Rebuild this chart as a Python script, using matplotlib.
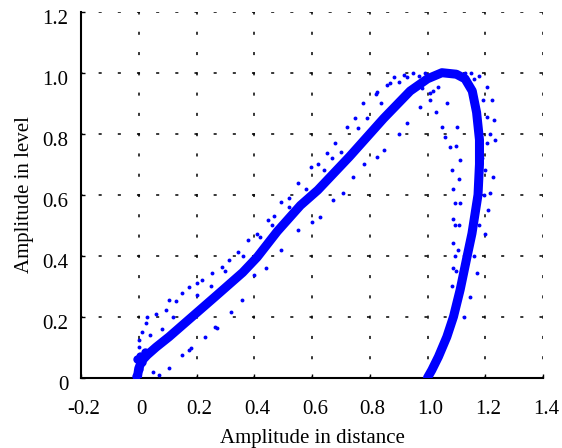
import matplotlib
matplotlib.use("Agg")
import matplotlib.pyplot as plt
import matplotlib.transforms as mtransforms

plt.rcParams['font.family'] = ['Liberation Serif', 'DejaVu Serif']
plt.rcParams['axes.unicode_minus'] = False
plt.rcParams['lines.scale_dashes'] = False

# main thick trajectory
band_x = [-0.005, 0.0, 0.01, 0.03, 0.06, 0.105, 0.185, 0.265, 0.36, 0.41, 0.48,
          0.56, 0.62, 0.73, 0.848, 0.94, 1.0, 1.05, 1.1, 1.13, 1.155, 1.17,
          1.18, 1.18, 1.175, 1.154, 1.137, 1.113, 1.09, 1.067, 1.038, 1.015, 1.0]
band_y = [0.0, 0.03, 0.055, 0.075, 0.1, 0.134, 0.2, 0.266, 0.345, 0.395, 0.48,
          0.565, 0.615, 0.725, 0.85, 0.94, 0.98, 1.0, 0.995, 0.98, 0.94, 0.87,
          0.78, 0.7, 0.6, 0.473, 0.397, 0.288, 0.2, 0.134, 0.069, 0.025, 0.0]

# the fuzzy start near the origin
blob_x = [-0.008, 0.0, 0.012, 0.005, 0.02, -0.005]
blob_y = [0.005, 0.03, 0.05, 0.07, 0.085, 0.06]

# loose points above the rising branch
upper_x = [0.0, 0.002, 0.01, 0.025, 0.03, 0.06, 0.093, 0.105, 0.13, 0.15, 0.174,
           0.2, 0.22, 0.254, 0.288, 0.311, 0.345, 0.38, 0.41, 0.449, 0.47, 0.494,
           0.52, 0.55, 0.596, 0.62, 0.651, 0.68, 0.72, 0.75, 0.778, 0.82, 0.826,
           0.86, 0.871, 0.885, 0.917, 0.95, 0.99, 0.08, 0.2, 0.3, 0.42, 0.52, 0.64,
           0.7, 0.79, 0.9, 0.04, 0.12, 0.25, 0.36, 0.46, 0.58, 0.67, 0.76, 0.84,
           0.93, 0.97]
upper_y = [0.10, 0.124, 0.15, 0.178, 0.2, 0.21, 0.222, 0.255, 0.25, 0.277, 0.298,
           0.31, 0.32, 0.342, 0.364, 0.386, 0.413, 0.451, 0.47, 0.517, 0.53, 0.577,
           0.59, 0.637, 0.692, 0.7, 0.736, 0.77, 0.823, 0.85, 0.9, 0.93, 0.938,
           0.96, 0.965, 0.987, 0.992, 1.0, 1.0, 0.16, 0.27, 0.35, 0.46, 0.56, 0.68,
           0.74, 0.85, 0.97, 0.14, 0.2, 0.3, 0.4, 0.5, 0.62, 0.72, 0.82, 0.9,
           0.985, 0.99]

# loose points below the rising branch
lower_x = [0.07, 0.105, 0.15, 0.174, 0.18, 0.23, 0.265, 0.27, 0.32, 0.357, 0.4,
           0.491, 0.55, 0.628, 0.674, 0.708, 0.743, 0.825, 0.848, 0.929, 0.975,
           1.009, 0.05, 0.44, 0.6, 0.78, 0.9]
lower_y = [0.009, 0.031, 0.074, 0.091, 0.096, 0.134, 0.167, 0.162, 0.216, 0.255,
           0.337, 0.419, 0.484, 0.528, 0.583, 0.605, 0.659, 0.725, 0.747, 0.834,
           0.889, 0.933, 0.02, 0.36, 0.51, 0.7, 0.8]

# inner returns of the falling branch
inner_x = [0.98, 1.009, 1.03, 1.05, 1.079, 1.085, 1.096, 1.095, 1.09, 1.09, 1.085,
           1.037, 1.067, 1.102, 1.113, 1.113, 1.11, 1.105, 1.1, 1.09, 1.095, 1.11,
           1.02, 1.06, 1.1, 1.088, 1.108, 1.1]
inner_y = [0.95, 0.911, 0.87, 0.823, 0.757, 0.681, 0.573, 0.5, 0.44, 0.36, 0.3,
           0.954, 0.9, 0.823, 0.714, 0.573, 0.5, 0.42, 0.35, 0.62, 0.4, 0.65,
           0.94, 0.79, 0.76, 0.52, 0.3, 0.26]

# outer returns of the falling branch
outer_x = [1.15, 1.18, 1.206, 1.223, 1.229, 1.235, 1.228, 1.217, 1.2, 1.17, 1.147,
           1.16, 1.193, 1.206, 1.217, 1.206, 1.2, 1.195, 1.18, 1.13, 1.19, 1.21,
           1.16, 1.125]
outer_y = [1.0, 0.99, 0.954, 0.91, 0.845, 0.78, 0.658, 0.605, 0.47, 0.343, 0.265,
           0.98, 0.91, 0.856, 0.8, 0.77, 0.68, 0.6, 0.5, 1.0, 0.72, 0.55,
           0.4, 0.2]

xticks = [-0.2, 0, 0.2, 0.4, 0.6, 0.8, 1.0, 1.2, 1.4]
xlabels = ['-0.2', '0', '0.2', '0.4', '0.6', '0.8', '1.0', '1.2', '1.4']
yticks = [0, 0.2, 0.4, 0.6, 0.8, 1.0, 1.2]
ylabels = ['0', '0.2', '0.4', '0.6', '0.8', '1.0', '1.2']

blue = '#0000ff'

fig = plt.figure(figsize=(5.62, 4.48), dpi=100)
ax = fig.add_axes([81 / 562, 70.3 / 448, 462 / 562, 366 / 448])

ax.plot(band_x, band_y, color=blue, lw=6.5, solid_capstyle='round',
        solid_joinstyle='round', zorder=3)
ax.plot(blob_x, blob_y, 'o', color=blue, ms=6, mec='none', zorder=3)
for xs, ys in [(upper_x, upper_y), (lower_x, lower_y),
               (inner_x, inner_y), (outer_x, outer_y)]:
    ax.plot(xs, ys, 'o', color=blue, ms=2.8, mec='none', zorder=3)

ax.set_xlim(-0.2, 1.4)
ax.set_ylim(0, 1.2)
ax.set_xticks(xticks)
ax.set_xticklabels(xlabels)
ax.set_yticks(yticks)
ax.set_yticklabels(ylabels)

# dotted grid, one dot per third of a cell
ax.xaxis.grid(True, color='black', lw=1.1, linestyle=(1.1, (2.2, 12.4)))
ax.yaxis.grid(True, color='black', lw=1.1, linestyle=(1.1, (2.2, 11.6)))
ax.set_axisbelow(True)

for s in ['top', 'right']:
    ax.spines[s].set_visible(False)
for s in ['left', 'bottom']:
    ax.spines[s].set_linewidth(1.5)

ax.tick_params(direction='in', length=3, width=1, labelsize=15)
ax.tick_params(axis='y', pad=9)
ax.tick_params(axis='x', pad=16)

dx = mtransforms.ScaledTranslation(3 / 100, 0, fig.dpi_scale_trans)
dy = mtransforms.ScaledTranslation(0, -5 / 100, fig.dpi_scale_trans)
for lab in ax.get_xticklabels():
    lab.set_transform(lab.get_transform() + dx)
for lab in ax.get_yticklabels():
    lab.set_transform(lab.get_transform() + dy)

ax.set_xlabel('Amplitude in distance', fontsize=15, labelpad=7)
ax.set_ylabel('Amplitude in level', fontsize=15, labelpad=6)

fig.savefig('out.png', dpi=100)
